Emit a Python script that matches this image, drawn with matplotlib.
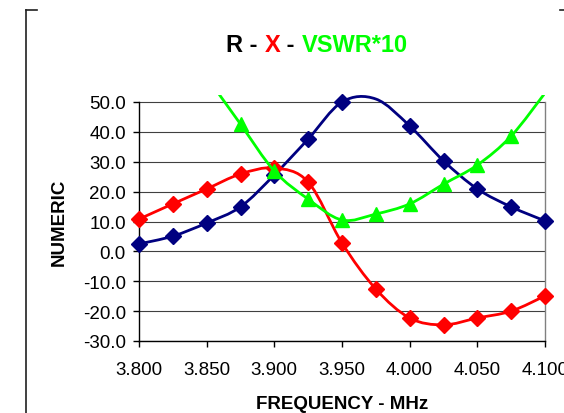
import matplotlib.pyplot as plt
import numpy as np
from matplotlib.lines import Line2D
from matplotlib.offsetbox import AnnotationBbox, HPacker, TextArea
from matplotlib.patches import PathPatch
from matplotlib.path import Path

plt.rcParams["font.family"] = ["Liberation Sans", "DejaVu Sans"]

# frequency points (MHz)
freq = [3.800, 3.825, 3.850, 3.875, 3.900, 3.925, 3.950,
        3.975, 4.000, 4.025, 4.050, 4.075, 4.100]
# R, X and VSWR*10
resistance = [2.5, 5.1, 9.5, 14.9, 25.6, 37.6, 50.0,
              51.0, 42.0, 30.3, 20.9, 14.9, 10.2]
reactance = [10.8, 15.9, 20.9, 25.9, 27.9, 23.2, 2.8,
             -12.6, -22.3, -24.6, -22.3, -20.0, -14.9]
vswr_x10 = [105.0, 80.0, 59.0, 42.6, 26.9, 17.5, 10.5,
            12.5, 15.9, 22.5, 28.9, 38.6, 53.0]

xtick_vals = [3.800, 3.850, 3.900, 3.950, 4.000, 4.050, 4.100]
ytick_vals = [-30, -20, -10, 0, 10, 20, 30, 40, 50]

NAVY = "#000080"
RED = "#FF0000"
GREEN = "#00FF00"


def smooth_path(x, y):
    """Bezier path through the points, like Excel's smoothed line."""
    pts = np.column_stack([x, y]).astype(float)
    ext = np.vstack([pts[0], pts, pts[-1]])
    verts = [pts[0]]
    codes = [Path.MOVETO]
    for i in range(len(pts) - 1):
        p0, p1, p2, p3 = ext[i], ext[i + 1], ext[i + 2], ext[i + 3]
        c1 = p1 + (p2 - p0) / 6.0
        c2 = p2 - (p3 - p1) / 6.0
        verts += [c1, c2, p2]
        codes += [Path.CURVE4] * 3
    return Path(verts, codes)


W, H = 564, 414
fig = plt.figure(figsize=(W / 100, H / 100), dpi=100)

y_top = 52.4
px_per_unit = (342 - 103) / 80.0
top_px = 103 - (y_top - 50) * px_per_unit
ax = fig.add_axes([139 / W, 1 - 342 / H, (545 - 139) / W, (342 - top_px) / H])

ax.set_xlim(3.8, 4.1)
ax.set_ylim(-30, y_top)

for yv in ytick_vals:
    ax.axhline(yv, color="#404040", lw=0.8, zorder=1)

series = [
    (resistance, NAVY, "D", 8.5),
    (reactance, RED, "D", 8.5),
    (vswr_x10, GREEN, "^", 10.5),
]
for k, (vals, col, mk, ms) in enumerate(series):
    z = 3 + 2 * k
    patch = PathPatch(smooth_path(freq, vals), fill=False, edgecolor=col,
                      lw=2.0, zorder=z, capstyle="round", joinstyle="round")
    ax.add_patch(patch)
    v = np.array(vals, dtype=float)
    v[v > 50.01] = np.nan
    ax.plot(freq, v, linestyle="none", marker=mk, ms=ms, color=col,
            markeredgecolor=col, clip_on=False, zorder=z + 1)

ax.spines["top"].set_visible(False)
ax.spines["left"].set_bounds(-30, 50)
ax.spines["right"].set_bounds(-30, 50)
ax.spines["right"].set_color("#808080")
for s in ("left", "bottom", "right"):
    ax.spines[s].set_linewidth(1.0)
ax.spines["left"].set_color("black")
ax.spines["bottom"].set_color("black")

ax.set_xticks(xtick_vals)
ax.set_xticklabels([f"{v:.3f}" for v in xtick_vals])
ax.set_yticks(ytick_vals)
ax.set_yticklabels([f"{v:.1f}" for v in ytick_vals])
ax.tick_params(axis="both", direction="out", length=4.5, width=1.0,
               labelsize=13.5, colors="black")
ax.tick_params(axis="x", pad=10)
ax.tick_params(axis="y", pad=5)

fig.text(59 / W, 1 - 222 / H, "NUMERIC", rotation=90, ha="center",
         va="center", fontsize=13.5, fontweight="bold")
fig.text(342 / W, 1 - 405 / H, "FREQUENCY - MHz", ha="center",
         va="center", fontsize=13.5, fontweight="bold")

# multi-coloured title
parts = [("R - ", "black"), ("X", RED), (" - ", "black"), ("VSWR*10", GREEN)]
boxes = [TextArea(t, textprops=dict(color=c, fontsize=17, fontweight="bold"))
         for t, c in parts]
pack = HPacker(children=boxes, align="baseline", pad=0, sep=0)
title = AnnotationBbox(pack, (317 / W, 1 - 45.5 / H), xycoords="figure fraction",
                       frameon=False, box_alignment=(0.5, 0.5))
fig.add_artist(title)

# partial outer chart border
fy = 1 - 11 / H
fig.add_artist(Line2D([26 / W, 26 / W], [fy, 0], color="#202020", lw=1.2))
fig.add_artist(Line2D([26 / W, 37 / W], [fy, fy], color="#202020", lw=1.2))
fig.add_artist(Line2D([560 / W, 1.0], [fy, fy], color="#202020", lw=1.2))

fig.savefig("out.png", dpi=100)
